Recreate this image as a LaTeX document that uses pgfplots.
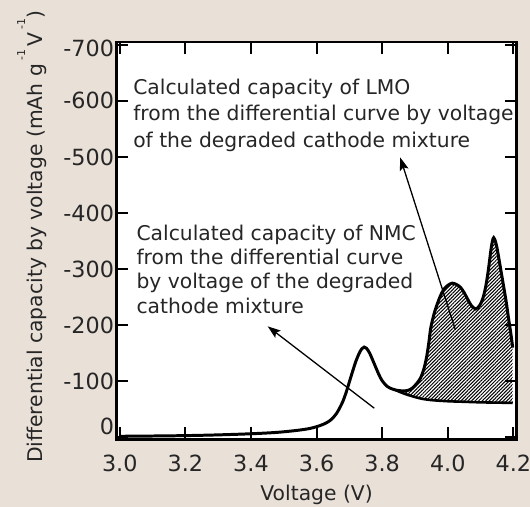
\documentclass[border=0pt]{standalone}
\usepackage{fontspec}
\setmainfont{DejaVu Sans}
\usepackage{xcolor}
\usepackage{pgfplots}
\pgfplotsset{compat=1.18}
\usepgfplotslibrary{fillbetween}
\usetikzlibrary{patterns.meta,arrows.meta}
\definecolor{bgbeige}{RGB}{233,224,216}
\definecolor{txt}{RGB}{38,38,38}
\newcommand{\sups}[1]{\raisebox{0.88em}{\fontsize{11}{11}\selectfont #1}}

\begin{document}
\pagecolor{bgbeige}
\begin{tikzpicture}[font=\fontsize{20.5}{24}\selectfont]
\begin{axis}[
  at={(0,0)},anchor=south west,
  scale only axis,width=402.6bp,height=400bp,
  axis background/.style={fill=white},
  axis line style={line width=2.4bp},
  xmin=2.99,xmax=4.21,ymin=-705.3,ymax=3.5,
  y dir=reverse,
  xtick={3.0,3.2,3.4,3.6,3.8,4.0,4.2},
  xticklabels={3.0,3.2,3.4,3.6,3.8,4.0,4.2},
  ytick={0,-100,-200,-300,-400,-500,-600,-700},
  yticklabels={\raisebox{3bp}[0pt][0pt]{0},-100,-200,-300,-400,-500,-600,\raisebox{-12bp}[0pt][0pt]{-700}},
  tick align=inside,
  major tick length=12bp,
  major tick style={line width=2bp,black},
  minor tick num=0,
  tick label style={font=\fontsize{22.5}{26}\selectfont},
  xticklabel style={text=txt,yshift=-12bp},
  yticklabel style={text=txt,xshift=1bp},
]
\addplot[name path=main,line width=3bp,smooth,black] coordinates {
(3.00,-2) (3.10,-2.5) (3.20,-3.2) (3.30,-4.5) (3.40,-6.5) (3.48,-9) (3.54,-12.5)
(3.58,-16) (3.61,-21) (3.63,-26) (3.645,-32) (3.66,-42) (3.67,-52) (3.68,-64)
(3.69,-80) (3.70,-99) (3.71,-118) (3.72,-136) (3.73,-150) (3.738,-158) (3.745,-161)
(3.752,-159) (3.762,-150) (3.776,-131) (3.79,-112) (3.80,-101) (3.815,-91)
(3.83,-86.5) (3.845,-84) (3.86,-83) (3.877,-83.5) (3.892,-88) (3.905,-96)
(3.917,-106) (3.927,-122) (3.935,-142) (3.942,-168) (3.948,-195) (3.958,-220)
(3.968,-238) (3.978,-253) (3.988,-264) (4.00,-271) (4.013,-275) (4.025,-273)
(4.038,-268) (4.05,-258) (4.06,-247) (4.072,-235) (4.085,-229) (4.097,-235)
(4.107,-248) (4.116,-270) (4.124,-300) (4.131,-332) (4.136,-350) (4.140,-356)
(4.145,-350) (4.150,-338) (4.156,-318) (4.163,-294) (4.170,-270) (4.178,-242)
(4.185,-213) (4.192,-186) (4.198,-160)
};
\addplot[name path=tail,line width=2.6bp,smooth,black] coordinates {
(3.84,-84.5) (3.85,-82) (3.865,-78.5) (3.88,-75.5) (3.90,-72) (3.92,-69)
(3.95,-66.5) (4.00,-64.5) (4.05,-63.5) (4.10,-62.5) (4.15,-62) (4.198,-61.5)
};
\addplot[draw=none,pattern={Lines[angle=45,distance=2.5bp,line width=1.05bp]}]
  fill between[of=main and tail,soft clip={domain=3.85:4.198}];
\draw[line width=1.3bp,-{Stealth[length=13bp,width=9bp,inset=2.5bp]}]
  (axis cs:3.776,-52) -- (axis cs:3.451,-198);
\draw[line width=1.3bp,-{Stealth[length=13bp,width=9bp,inset=2.5bp]}]
  (axis cs:4.023,-192) -- (axis cs:3.855,-499);
\end{axis}
\node[text=txt,anchor=north west,inner sep=0pt,align=left,font=\fontsize{20.5}{26.7}\selectfont]
  at (16.7bp,362.6bp) {Calculated capacity of LMO\\from the differential curve by voltage\\of the degraded cathode mixture};
\node[text=txt,anchor=north west,inner sep=0pt,align=left,font=\fontsize{20.5}{24.5}\selectfont]
  at (20bp,215.9bp) {Calculated capacity of NMC\\from the differential curve\\by voltage of the degraded\\cathode mixture};
\node[text=txt,rotate=90,anchor=base] at (-74bp,204bp)
  {Differential capacity by voltage (mAh g\,\sups{-1}\,V\,\sups{-1})};
\node[text=txt,anchor=base] at (201.3bp,-61.5bp) {Voltage (V)};
\pgfresetboundingbox
\path (-114bp,-68bp) rectangle (416bp,442bp);
\end{tikzpicture}
\end{document}
